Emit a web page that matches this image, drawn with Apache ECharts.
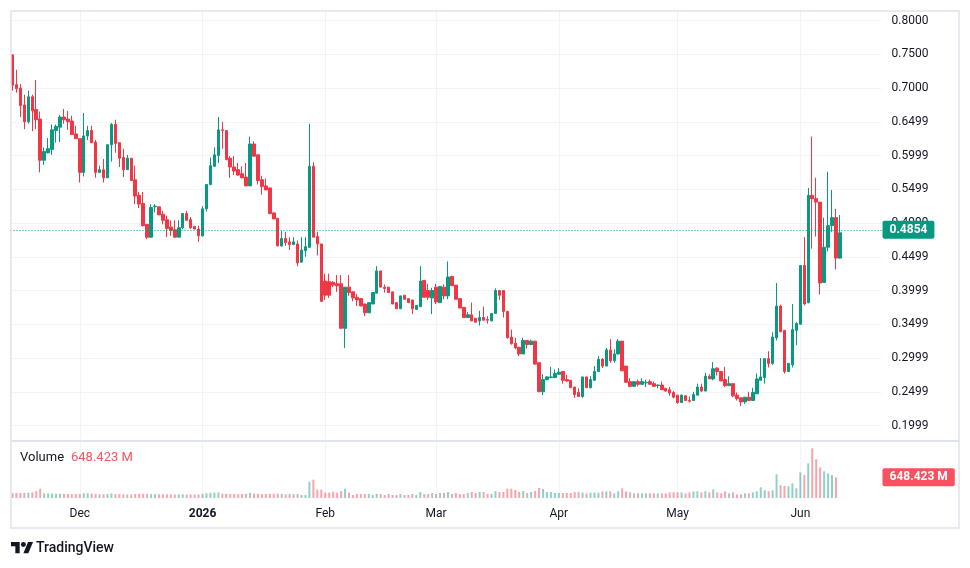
<!DOCTYPE html>
<html>
<head>
<meta charset="utf-8">
<script src="https://cdn.jsdelivr.net/npm/echarts@6/dist/echarts.min.js"></script>
<style>
  html, body { margin: 0; padding: 0; background: #fff; }
  #chart { width: 970px; height: 568px; }
</style>
</head>
<body>
<div id="chart"></div>
<script>
// daily candles, 14 Nov 2025 .. 11 Jun 2026
const startDay = Date.UTC(2025, 10, 14)
const slotCount = 220 // 210 candles + empty space on the right

const opens = [
  .749,.705,.700,.675,.650,.687,.668,.654,.593,.604,
  .609,.637,.642,.657,.654,.651,.632,.625,.575,.629,
  .637,.620,.575,.579,.567,.616,.646,.619,.597,.579,
  .596,.564,.541,.529,.498,.479,.524,.524,.513,.505,
  .494,.490,.479,.493,.514,.505,.495,.491,.481,.521,
  .557,.584,.600,.638,.637,.596,.583,.579,.573,.568,
  .555,.617,.601,.564,.555,.552,.515,.507,.466,.477,
  .472,.468,.469,.442,.459,.464,.584,.480,.469,.414,
  .413,.412,.410,.410,.344,.405,.398,.390,.388,.380,
  .367,.380,.396,.429,.405,.405,.398,.382,.373,.393,
  .388,.386,.372,.376,.415,.400,.389,.405,.382,.405,
  .392,.421,.408,.388,.375,.360,.364,.359,.355,.360,
  .357,.355,.366,.400,.400,.369,.331,.322,.316,.306,
  .326,.320,.325,.293,.250,.268,.271,.271,.276,.280,
  .268,.267,.257,.249,.243,.272,.256,.267,.280,.298,
  .288,.312,.296,.306,.325,.288,.265,.258,.265,.261,
  .263,.265,.262,.259,.260,.255,.253,.249,.245,.234,
  .244,.237,.237,.245,.257,.251,.273,.269,.285,.280,
  .268,.259,.262,.245,.241,.235,.242,.237,.247,.267,
  .271,.299,.292,.330,.377,.341,.280,.290,.341,.350,
  .437,.382,.541,.536,.531,.412,.464,.496,.508,.448
]
const closes = [
  .704,.699,.674,.650,.687,.666,.653,.593,.606,.610,
  .638,.643,.657,.653,.650,.631,.625,.575,.629,.637,
  .619,.575,.579,.567,.616,.646,.618,.596,.579,.596,
  .563,.540,.528,.496,.479,.523,.525,.512,.504,.492,
  .489,.479,.493,.514,.504,.493,.491,.481,.521,.557,
  .585,.601,.638,.637,.594,.583,.577,.571,.567,.555,
  .617,.599,.563,.554,.549,.514,.506,.466,.477,.471,
  .468,.472,.441,.460,.465,.584,.479,.469,.384,.393,
  .393,.408,.407,.344,.405,.397,.389,.386,.377,.367,
  .382,.397,.429,.405,.403,.397,.380,.373,.392,.387,
  .382,.373,.378,.414,.390,.390,.400,.383,.406,.392,
  .420,.407,.387,.374,.360,.364,.355,.353,.360,.356,
  .356,.366,.400,.393,.369,.330,.321,.315,.306,.326,
  .320,.325,.291,.250,.268,.272,.272,.277,.279,.267,
  .266,.256,.246,.243,.272,.256,.268,.280,.298,.288,
  .312,.296,.306,.325,.281,.264,.258,.265,.261,.265,
  .264,.261,.258,.260,.253,.251,.248,.242,.234,.245,
  .237,.236,.246,.257,.251,.273,.269,.284,.280,.266,
  .259,.262,.244,.240,.235,.242,.237,.249,.269,.272,
  .299,.292,.331,.377,.339,.280,.292,.342,.351,.437,
  .380,.541,.536,.531,.411,.464,.496,.508,.448,.4854
]
const lows = [
  .696,.693,.657,.639,.647,.636,.639,.575,.586,.603,
  .601,.619,.620,.647,.638,.631,.625,.560,.569,.623,
  .619,.567,.574,.560,.567,.591,.604,.583,.568,.579,
  .563,.528,.522,.495,.476,.478,.516,.512,.498,.479,
  .481,.479,.479,.491,.504,.491,.491,.472,.480,.517,
  .556,.583,.589,.610,.593,.567,.571,.570,.566,.555,
  .555,.599,.557,.542,.549,.513,.506,.466,.465,.466,
  .460,.468,.436,.442,.450,.464,.479,.452,.383,.386,
  .389,.405,.398,.344,.315,.392,.384,.377,.377,.362,
  .367,.380,.396,.405,.397,.397,.380,.373,.373,.387,
  .382,.365,.372,.376,.390,.386,.365,.380,.382,.387,
  .387,.407,.387,.374,.360,.360,.355,.353,.348,.355,
  .351,.355,.366,.386,.360,.329,.320,.313,.303,.306,
  .314,.319,.290,.250,.245,.267,.270,.270,.275,.262,
  .265,.256,.241,.243,.241,.256,.255,.266,.280,.285,
  .288,.293,.293,.305,.281,.264,.257,.258,.258,.261,
  .257,.261,.258,.255,.253,.250,.244,.240,.232,.234,
  .237,.234,.237,.245,.250,.251,.269,.267,.274,.266,
  .257,.259,.242,.237,.229,.232,.237,.237,.247,.267,
  .262,.286,.290,.326,.338,.277,.280,.286,.319,.350,
  .378,.381,.462,.480,.394,.412,.458,.487,.431,.447
]
const highs = [
  .750,.727,.706,.690,.696,.690,.712,.665,.612,.626,
  .646,.646,.660,.669,.666,.659,.644,.625,.663,.644,
  .644,.623,.585,.595,.616,.648,.653,.619,.610,.601,
  .596,.585,.546,.546,.498,.528,.528,.524,.518,.511,
  .504,.504,.504,.514,.518,.509,.495,.496,.525,.557,
  .597,.612,.657,.650,.637,.599,.599,.589,.584,.589,
  .628,.621,.601,.570,.566,.552,.515,.507,.488,.487,
  .479,.479,.474,.479,.479,.647,.590,.487,.469,.425,
  .425,.414,.423,.423,.405,.423,.398,.395,.388,.380,
  .382,.397,.436,.429,.409,.405,.398,.382,.392,.393,
  .388,.386,.378,.436,.415,.410,.404,.410,.406,.409,
  .443,.421,.408,.388,.375,.368,.382,.359,.370,.376,
  .362,.366,.403,.400,.400,.370,.342,.330,.316,.330,
  .326,.327,.325,.293,.276,.273,.287,.283,.285,.281,
  .275,.267,.257,.255,.272,.272,.273,.288,.303,.300,
  .315,.328,.313,.328,.325,.288,.270,.266,.268,.270,
  .268,.268,.265,.261,.265,.256,.257,.251,.245,.246,
  .245,.243,.250,.262,.262,.278,.276,.294,.286,.280,
  .287,.273,.262,.249,.241,.242,.250,.256,.277,.300,
  .300,.310,.338,.411,.379,.341,.292,.380,.353,.437,
  .479,.552,.628,.567,.531,.508,.576,.549,.521,.512
]
// volume in millions (no bar yet for the last candle)
const volumes = [
  160,160,160,160,165,175,215,290,145,140,
  140,135,135,130,130,125,125,125,150,150,
  140,130,115,120,125,140,120,120,115,110,
  110,125,135,135,130,120,120,115,115,115,
  110,110,110,115,110,110,110,110,130,150,
  165,170,170,135,135,125,125,120,125,135,
  160,135,135,120,125,135,135,135,130,115,
  130,120,125,94,94,511,574,261,261,167,
  167,198,167,219,292,167,94,125,125,125,
  125,94,125,125,94,125,94,94,125,94,
  94,125,94,188,125,125,157,125,157,157,
  188,125,157,125,125,157,188,157,188,188,
  125,125,219,188,188,292,292,250,188,219,
  157,188,219,313,282,188,188,157,157,157,
  157,157,188,188,170,146,167,167,167,209,
  209,209,146,209,303,209,177,146,146,146,
  146,146,146,146,146,146,177,177,177,177,
  146,177,209,209,177,209,177,271,177,146,
  209,146,177,115,115,146,146,177,209,334,
  240,209,240,741,397,376,365,459,303,803,
  720,1085,1555,1210,960,835,772,720,648.423
]
const priceTicks = [0.2, 0.25, 0.3, 0.35, 0.4, 0.45, 0.5, 0.55, 0.6, 0.65, 0.7, 0.75, 0.8]
const priceTickLabels = ['0.1999', '0.2499', '0.2999', '0.3499', '0.3999', '0.4499', '0.4999',
  '0.5499', '0.5999', '0.6499', '0.7000', '0.7500', '0.8000']
const monthNames = ['Jan', 'Feb', 'Mar', 'Apr', 'May', 'Jun', 'Jul', 'Aug', 'Sep', 'Oct', 'Nov', 'Dec']
const lastPrice = 0.4854
const lastVolume = 648.423

const upColor = '#089981'
const downColor = '#f23645'
const font = '"Trebuchet MS", Roboto, sans-serif'

const dates = []
for (let i = 0; i < slotCount; i++) {
  dates.push(new Date(startDay + i * 86400000).toISOString().slice(0, 10))
}
const isMonthStart = (idx) => dates[idx].slice(8) === '01'

const candleData = opens.map((o, i) => [o, closes[i], lows[i], highs[i]])
const volumeData = volumes.map((v, i) => ({
  value: v,
  itemStyle: { color: closes[i] >= opens[i] ? 'rgba(8,153,129,0.45)' : 'rgba(242,54,69,0.45)' }
}))

// price pane: 0.80 sits near y=20 and 675 px per unit; grid runs from y=0 down to 0.15
const pxPerUnit = 675
const priceMin = 0.15
const priceMax = 0.8 + 20.5 / pxPerUnit
const gridLeft = 10.5
const gridWidth = 871

const myChart = echarts.init(document.getElementById('chart'), null, { renderer: 'canvas' })
const options = {
  animation: false,
  backgroundColor: '#fff',
  textStyle: { fontFamily: font },
  grid: [
    { left: gridLeft, width: gridWidth, top: 0, height: (priceMax - priceMin) * pxPerUnit, outerBoundsMode: 'none', containLabel: false },
    { left: gridLeft, width: gridWidth, top: 441, height: 57, outerBoundsMode: 'none', containLabel: false }
  ],
  xAxis: [
    {
      type: 'category', gridIndex: 0, data: dates, boundaryGap: true,
      axisLine: { show: false }, axisTick: { show: false }, axisLabel: { show: false },
      splitLine: { show: true, interval: isMonthStart, alignWithLabel: true, lineStyle: { color: '#f0f3fa', width: 1 } }
    },
    {
      type: 'category', gridIndex: 1, data: dates, boundaryGap: true,
      axisLine: { show: false }, axisTick: { show: false },
      splitLine: { show: true, interval: isMonthStart, alignWithLabel: true, lineStyle: { color: '#f0f3fa', width: 1 } },
      axisLabel: {
        interval: isMonthStart,
        margin: 10,
        color: '#131722',
        fontSize: 12,
        fontFamily: font,
        formatter: (value) => {
          const m = +value.slice(5, 7)
          return m === 1 ? '{y|' + value.slice(0, 4) + '}' : monthNames[m - 1]
        },
        rich: { y: { fontWeight: 'bold', fontSize: 12, color: '#131722', fontFamily: font } }
      }
    }
  ],
  yAxis: [
    {
      type: 'value', gridIndex: 0, position: 'right',
      min: priceMin, max: priceMax, interval: 0.05,
      axisLine: { show: false }, axisTick: { show: false },
      axisLabel: {
        margin: 10, color: '#131722', fontSize: 12, fontFamily: font,
        showMaxLabel: false,
        formatter: (value) => {
          const k = priceTicks.findIndex((t) => Math.abs(t - value) < 1e-6)
          return k < 0 ? '' : priceTickLabels[k]
        }
      },
      splitLine: {
        show: true,
        // first line (0.15) falls inside the volume pane: keep it invisible
        lineStyle: { color: ['rgba(0,0,0,0)'].concat(new Array(15).fill('#f0f3fa')), width: 1 }
      }
    },
    {
      type: 'value', gridIndex: 1, min: 0, max: 1785, show: false,
      splitLine: { show: false }
    }
  ],
  series: [
    {
      type: 'candlestick',
      xAxisIndex: 0, yAxisIndex: 0,
      data: candleData,
      barWidth: 3,
      itemStyle: {
        color: upColor, color0: downColor,
        borderColor: upColor, borderColor0: downColor, borderWidth: 1
      },
      markLine: {
        silent: true,
        symbol: ['none', 'none'],
        itemStyle: { color: upColor },
        emphasis: { disabled: true },
        data: [{ yAxis: lastPrice, lineStyle: { color: upColor } }],
        lineStyle: { color: upColor, type: [1, 2], width: 1, opacity: 1 },
        label: {
          show: true, position: 'end', distance: 1,
          formatter: lastPrice.toFixed(4),
          backgroundColor: upColor, color: '#fff', fontWeight: 'bold',
          fontSize: 12, fontFamily: font, padding: [3, 7, 3, 7], borderRadius: 2
        }
      }
    },
    {
      type: 'bar',
      xAxisIndex: 1, yAxisIndex: 1,
      data: volumeData,
      barWidth: 2,
      markLine: {
        silent: true,
        symbol: ['none', 'none'],
        data: [{ yAxis: lastVolume }],
        lineStyle: { color: 'rgba(0,0,0,0)', width: 1, opacity: 1 },
        label: {
          show: true, position: 'end', distance: 1,
          formatter: lastVolume.toFixed(3) + ' M',
          backgroundColor: '#f7525f', color: '#fff', fontWeight: 'bold',
          fontSize: 12, fontFamily: font, padding: [3, 7, 3, 7], borderRadius: 2
        }
      }
    }
  ],
  graphic: [
    // hide the overflow of the price grid above the frame
    { type: 'rect', z: 100, shape: { x: 0, y: 0, width: 970, height: 10.5 }, style: { fill: '#fff' } },
    { type: 'rect', z: 101, shape: { x: 11, y: 440, width: 948, height: 2 }, style: { fill: '#e0e3eb' } },
    { type: 'rect', z: 101, shape: { x: 11, y: 11, width: 948, height: 517 }, style: { fill: 'none', stroke: '#e0e3eb', lineWidth: 1.5 } },
    { type: 'text', z: 102, x: 20, y: 451, style: { text: 'Volume', fill: '#131722', font: '13px ' + font } },
    { type: 'text', z: 102, x: 71, y: 451, style: { text: lastVolume.toFixed(3) + ' M', fill: '#f7525f', font: '13px ' + font } },
    {
      type: 'group', x: 11, y: 539.5, scaleX: 0.62, scaleY: 0.62, z: 102,
      children: [
        { type: 'polygon', shape: { points: [[14, 22], [7, 22], [7, 11], [0, 11], [0, 4], [14, 4]] }, style: { fill: '#131722' } },
        { type: 'polygon', shape: { points: [[28, 22], [20, 22], [27.5, 4], [35.5, 4]] }, style: { fill: '#131722' } },
        { type: 'circle', shape: { cx: 20, cy: 8, r: 4 }, style: { fill: '#131722' } }
      ]
    },
    { type: 'text', z: 102, x: 36, y: 541, style: { text: 'TradingView', fill: '#131722', font: '500 14px ' + font } }
  ]
}
myChart.setOption(options)
</script>
</body>
</html>
